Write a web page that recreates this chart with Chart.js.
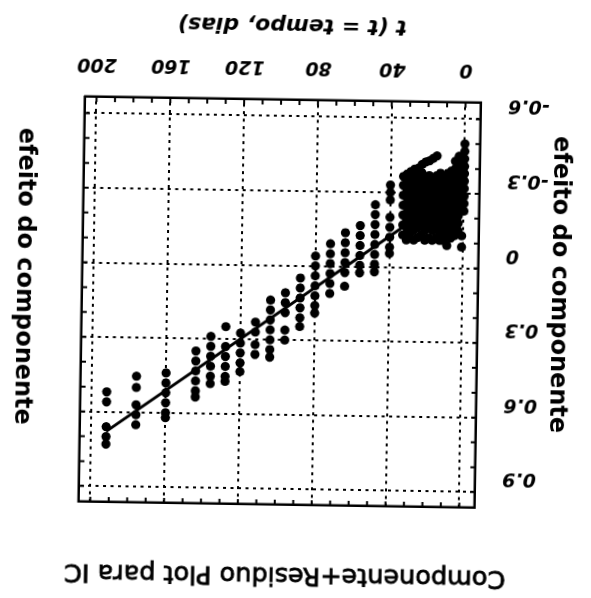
<!DOCTYPE html>
<html>
<head>
<meta charset="utf-8">
<script src="https://cdn.jsdelivr.net/npm/chart.js@4"></script>
<style>
  html, body { margin: 0; padding: 0; background: #fff; overflow: hidden; }
  #wrap { width: 591px; height: 598px; transform: rotate(180.9deg); transform-origin: 50% 50%; background: #fff; }
  canvas { display: block; }
</style>
</head>
<body>
<div id="wrap"><canvas id="c" width="591" height="598"></canvas></div>
<script>
// Text
const chartTitle = 'Componente+Residuo Plot para IC';
const xTitle = 't (t = tempo, dias)';
const yTitle = 'efeito do componente';

// Axis ticks
const xTicks = [0, 40, 80, 120, 160, 200];
const yTicks = [-0.6, -0.3, 0, 0.3, 0.6, 0.9];
const yTickLabels = ['-0.6', '-0.3', '0', '0.3', '0.6', '0.9'];

// Partial residuals, later follow-up days (one column per day)
const columnDays = [192, 176, 160, 144, 136, 128, 120, 112, 104, 96, 88, 80, 72, 64, 56, 48, 40];
const columnEffects = [
  [0.52, 0.56, 0.66, 0.70, 0.73],
  [0.455, 0.50, 0.57, 0.61, 0.65],
  [0.44, 0.48, 0.52, 0.56, 0.60, 0.62],
  [0.35, 0.39, 0.43, 0.47, 0.51, 0.535],
  [0.29, 0.33, 0.37, 0.41, 0.45, 0.48],
  [0.25, 0.33, 0.37, 0.41, 0.45, 0.47],
  [0.275, 0.315, 0.355, 0.395, 0.43],
  [0.23, 0.27, 0.32, 0.36],
  [0.14, 0.18, 0.22, 0.26, 0.30, 0.34, 0.37],
  [0.11, 0.15, 0.19, 0.26, 0.30],
  [0.05, 0.09, 0.13, 0.17, 0.21, 0.245],
  [-0.04, 0.0, 0.04, 0.08, 0.12, 0.16, 0.19],
  [-0.09, -0.05, -0.01, 0.03, 0.07, 0.11],
  [-0.135, -0.095, -0.055, -0.015, 0.025, 0.08],
  [-0.165, -0.125, -0.085, -0.045, -0.005, 0.025],
  [-0.25, -0.21, -0.17, -0.13, -0.09, -0.05, -0.01, 0.02],
  [-0.33, -0.30, -0.27, -0.20, -0.16, -0.12, -0.08, -0.055]
];

// Partial residuals, first month of follow-up
const clusterDays = [0, 1, 3, 5, 7, 9, 11, 13, 15, 17, 19, 21, 23, 25, 27, 29, 31, 33];
const clusterEffects = [
  [-0.50, -0.47, -0.44, -0.41, -0.38, -0.35, -0.32, -0.29, -0.26, -0.23],
  [-0.13, -0.085],
  [-0.45, -0.42, -0.39, -0.36, -0.33, -0.30, -0.27, -0.24, -0.21, -0.18, -0.15],
  [-0.43, -0.40, -0.37, -0.34, -0.31, -0.28, -0.25, -0.22, -0.19, -0.16, -0.13],
  [-0.39, -0.36, -0.33, -0.30, -0.27, -0.24, -0.21, -0.18, -0.15, -0.12],
  [-0.38, -0.35, -0.32, -0.29, -0.26, -0.23, -0.20, -0.17, -0.14, -0.09],
  [-0.37, -0.34, -0.31, -0.28, -0.25, -0.22, -0.19, -0.16, -0.13, -0.11],
  [-0.38, -0.35, -0.32, -0.29, -0.26, -0.23, -0.20, -0.17, -0.14, -0.11],
  [-0.45, -0.37, -0.34, -0.31, -0.28, -0.25, -0.22, -0.19, -0.16, -0.12],
  [-0.44, -0.36, -0.33, -0.30, -0.27, -0.24, -0.21, -0.18, -0.15, -0.11],
  [-0.43, -0.37, -0.34, -0.31, -0.28, -0.25, -0.22, -0.19, -0.16, -0.12],
  [-0.425, -0.36, -0.33, -0.30, -0.27, -0.24, -0.21, -0.18, -0.15, -0.11],
  [-0.415, -0.38, -0.35, -0.32, -0.29, -0.26, -0.23, -0.20, -0.17, -0.13],
  [-0.40, -0.37, -0.34, -0.31, -0.28, -0.25, -0.22, -0.19, -0.16, -0.12],
  [-0.395, -0.36, -0.33, -0.30, -0.27, -0.24, -0.21, -0.18, -0.15, -0.11],
  [-0.385, -0.35, -0.32, -0.29, -0.26, -0.23, -0.20, -0.17, -0.14, -0.12],
  [-0.375, -0.34, -0.31, -0.28, -0.25, -0.22, -0.19, -0.16, -0.13, -0.11],
  [-0.365, -0.33, -0.29, -0.25, -0.21, -0.17, -0.13]
];

// Fitted linear component
const fitDays = [0, 192];
const fitEffects = [-0.335, 0.679];

const toPoints = (days, groups) =>
  days.flatMap((d, i) => groups[i].map(v => ({ x: d, y: v })));

const residualPoints = toPoints(clusterDays, clusterEffects)
  .concat(toPoints(columnDays, columnEffects));
const fitPoints = fitDays.map((d, i) => ({ x: d, y: fitEffects[i] }));

const X_MIN = -8.4, X_MAX = 206.2, Y_MIN = -0.666, Y_MAX = 0.963;
const INK = '#000';
const tickFont = { family: 'DejaVu Sans', size: 19, weight: 'bold', style: 'italic' };

// Frame marks (inward minor ticks) and titles
const decor = {
  id: 'decor',
  afterDraw(chart) {
    const { ctx, chartArea: a, scales: { x, y } } = chart;
    ctx.save();
    ctx.strokeStyle = INK;
    ctx.lineWidth = 2;
    ctx.beginPath();
    for (let d = 0; d <= 200; d += 10) {
      const px = x.getPixelForValue(d);
      ctx.moveTo(px, a.top); ctx.lineTo(px, a.top + 5);
      ctx.moveTo(px, a.bottom); ctx.lineTo(px, a.bottom - 5);
    }
    for (let k = -6; k <= 9; k++) {
      const py = y.getPixelForValue(k / 10);
      ctx.moveTo(a.left, py); ctx.lineTo(a.left + 5, py);
      ctx.moveTo(a.right, py); ctx.lineTo(a.right - 5, py);
    }
    ctx.stroke();

    ctx.fillStyle = INK;
    ctx.textAlign = 'center';
    ctx.textBaseline = 'middle';

    ctx.font = '25.5px "DejaVu Sans"';
    ctx.lineWidth = 0.8;
    ctx.fillText(chartTitle, 302, 23);
    ctx.strokeText(chartTitle, 302, 23);

    ctx.font = 'italic bold 22px "DejaVu Sans"';
    ctx.fillText(xTitle, 303, 573);

    ctx.font = 'bold 24px "DejaVu Sans"';
    const cy = (a.top + a.bottom) / 2 + 22;
    [33, 568].forEach(tx => {
      ctx.save();
      ctx.translate(tx, cy);
      ctx.rotate(-Math.PI / 2);
      ctx.fillText(yTitle, 0, 0);
      ctx.restore();
    });
    ctx.restore();
  }
};

const frameSide = (pos, size) => ({
  type: 'linear',
  position: pos,
  min: pos === 'top' ? X_MIN : Y_MIN,
  max: pos === 'top' ? X_MAX : Y_MAX,
  ticks: { display: false },
  grid: { display: false },
  border: { display: true, color: INK, width: 2.5 },
  afterFit(s) { if (pos === 'top') s.height = size; else s.width = size; }
});

new Chart(document.getElementById('c'), {
  type: 'scatter',
  data: {
    datasets: [
      {
        data: fitPoints,
        showLine: true,
        borderColor: INK,
        borderWidth: 3,
        pointRadius: 0,
        pointHoverRadius: 0
      },
      {
        data: residualPoints,
        backgroundColor: INK,
        borderWidth: 0,
        pointRadius: 4.6,
        pointHoverRadius: 4.6
      }
    ]
  },
  plugins: [decor],
  options: {
    responsive: false,
    animation: false,
    devicePixelRatio: 1,
    layout: { padding: 0 },
    plugins: { legend: { display: false }, tooltip: { enabled: false }, title: { display: false } },
    scales: {
      x: {
        type: 'linear', position: 'bottom', min: X_MIN, max: X_MAX,
        afterBuildTicks(s) { s.ticks = xTicks.map(v => ({ value: v })); },
        afterFit(s) { s.height = 100; },
        ticks: { padding: 22, color: INK, font: tickFont, maxRotation: 0, autoSkip: false },
        grid: { color: INK, lineWidth: 2, drawTicks: false },
        border: { display: true, color: INK, width: 2.5, dash: [3, 4.5] }
      },
      y: {
        type: 'linear', position: 'left', min: Y_MIN, max: Y_MAX,
        afterBuildTicks(s) { s.ticks = yTicks.map(v => ({ value: v })); },
        afterFit(s) { s.width = 113; },
        ticks: {
          padding: 27, color: INK, font: tickFont, labelOffset: 14, autoSkip: false,
          callback(value) { const i = yTicks.findIndex(t => Math.abs(t - value) < 1e-9); return i >= 0 ? yTickLabels[i] : ''; }
        },
        grid: { color: INK, lineWidth: 2, drawTicks: false },
        border: { display: true, color: INK, width: 2.5, dash: [3, 4.5] }
      },
      xTop: frameSide('top', 93),
      yRight: frameSide('right', 82)
    }
  }
});
</script>
</body>
</html>
